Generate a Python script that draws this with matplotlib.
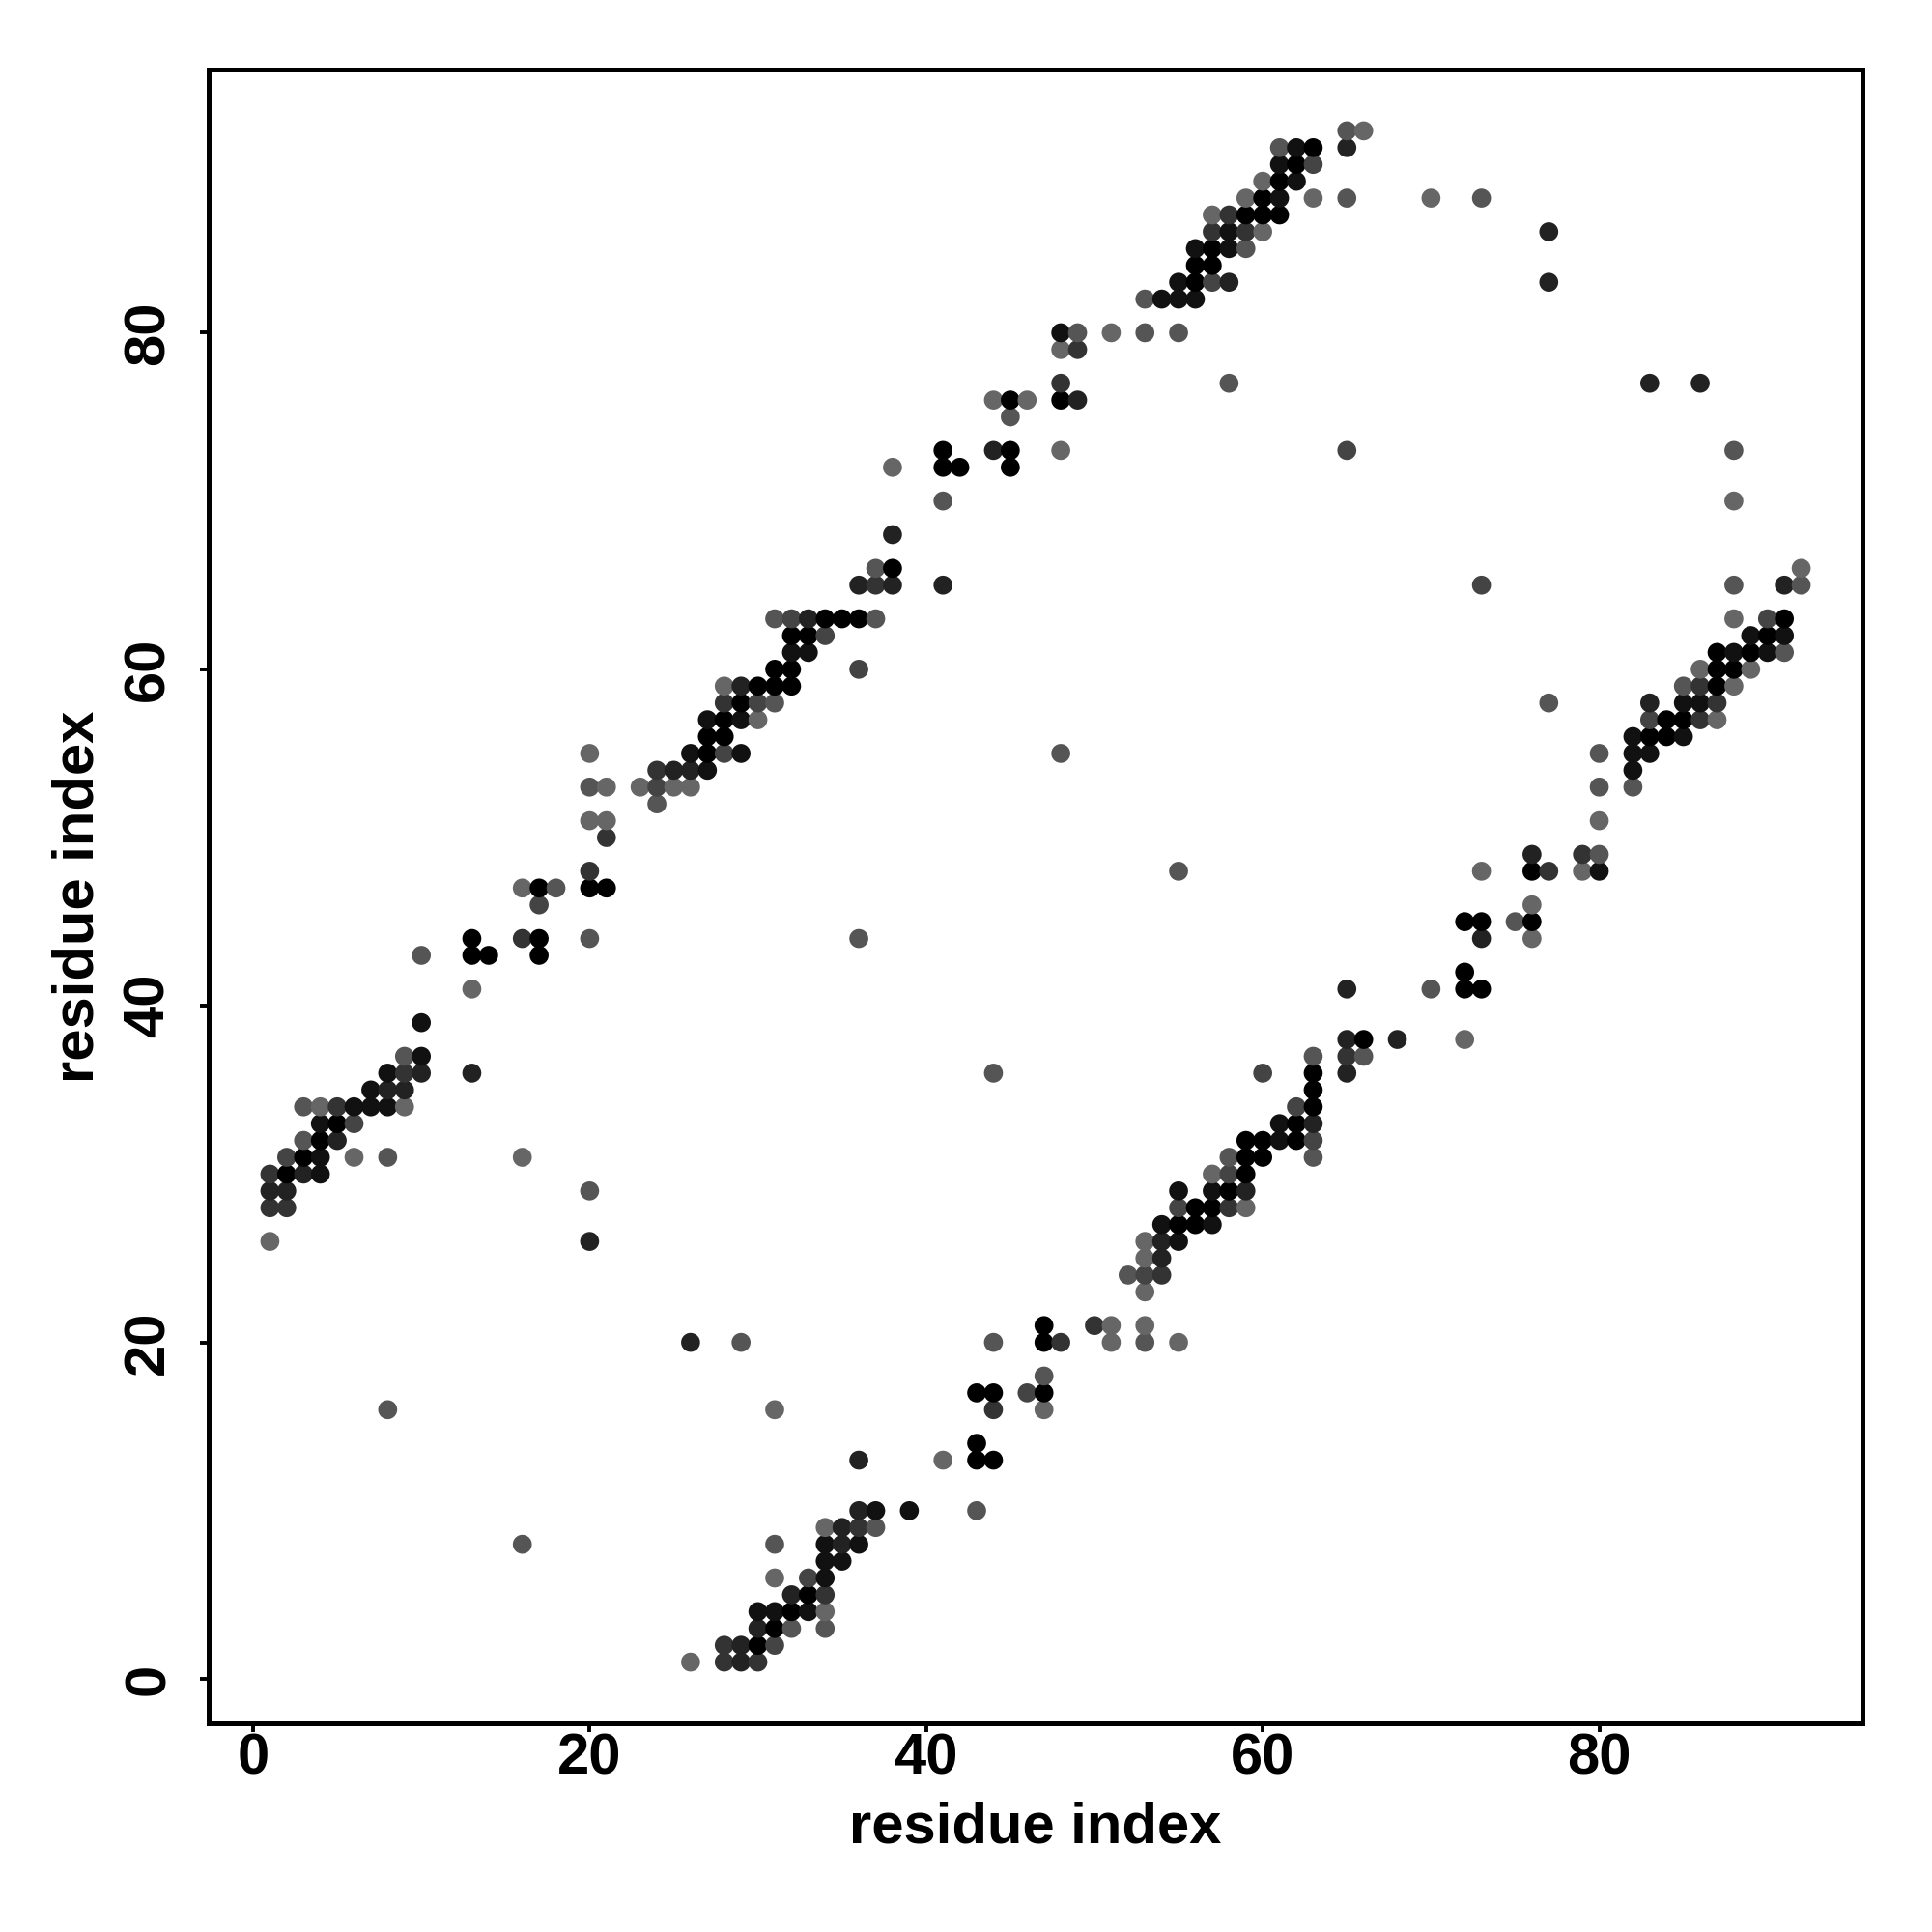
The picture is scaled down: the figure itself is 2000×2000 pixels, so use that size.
import numpy as np
import matplotlib
matplotlib.use("Agg")
from matplotlib import pyplot as plt

plt.rcParams['font.family'] = ['Liberation Sans', 'DejaVu Sans']
plt.rcParams['font.weight'] = 'bold'

# contacts read from the lower triangle (i > j); the map is symmetric,
# so each contact is also drawn at (j, i)
# shade: 0 = black ... 6 = grey #666666
contact_i = [16, 26, 26, 28, 28, 29, 29, 29, 30, 30, 30, 30,
             31, 31, 31, 31, 31, 31, 32, 32, 32, 33, 33, 33,
             34, 34, 34, 34, 34, 34, 34, 35, 35, 35, 36, 36, 36, 36,
             37, 37, 39, 41, 43, 43, 43, 43, 44, 44, 44, 44, 44,
             46, 47, 47, 47, 47, 47, 48, 50, 51, 51, 52,
             53, 53, 53, 53, 53, 53, 54, 54, 54, 54,
             55, 55, 55, 55, 55, 55, 56, 56, 57, 57, 57, 57,
             58, 58, 58, 58, 59, 59, 59, 59, 59, 60, 60, 60,
             61, 61, 62, 62, 62, 63, 63, 63, 63, 63, 63, 63,
             65, 65, 65, 65, 66, 66, 68, 70, 72, 72, 72, 72,
             73, 73, 73, 73, 73, 75, 76, 76, 76, 76, 76, 77, 77,
             79, 79, 80, 80, 80, 80, 80, 82, 82, 82, 82,
             83, 83, 83, 83, 83, 84, 84, 85, 85, 85, 85,
             86, 86, 86, 86, 86, 87, 87, 87, 87, 87,
             88, 88, 88, 88, 88, 88, 88, 89, 89, 89, 90, 90, 90,
             91, 91, 91, 91, 92, 92]
contact_j = [8, 1, 20, 1, 2, 1, 2, 20, 1, 2, 3, 4,
             2, 3, 4, 6, 8, 16, 3, 4, 5, 4, 5, 6,
             3, 4, 5, 6, 7, 8, 9, 7, 8, 9, 8, 9, 10, 13,
             9, 10, 10, 13, 10, 13, 14, 17, 13, 16, 17, 20, 36,
             17, 16, 17, 18, 20, 21, 20, 21, 20, 21, 24,
             20, 21, 23, 24, 25, 26, 24, 25, 26, 27,
             20, 26, 27, 28, 29, 48, 27, 28, 27, 28, 29, 30,
             28, 29, 30, 31, 28, 29, 30, 31, 32, 31, 32, 36,
             32, 33, 32, 33, 34, 31, 32, 33, 34, 35, 36, 37,
             36, 37, 38, 41, 37, 38, 38, 41, 38, 41, 42, 45,
             41, 44, 45, 48, 65, 45, 44, 45, 46, 48, 49, 48, 58,
             48, 49, 48, 49, 51, 53, 55, 53, 54, 55, 56,
             55, 56, 57, 58, 77, 56, 57, 56, 57, 58, 59,
             57, 58, 59, 60, 77, 57, 58, 59, 60, 61,
             59, 60, 61, 63, 65, 70, 73, 60, 61, 62, 61, 62, 63,
             61, 62, 63, 65, 65, 66]
shade = [5, 6, 2, 3, 3, 2, 2, 5, 3, 0, 2, 1,
         4, 0, 1, 6, 5, 6, 5, 0, 2, 1, 0, 4,
         5, 6, 3, 1, 1, 1, 6, 1, 2, 2, 1, 3, 2, 2,
         5, 1, 1, 6, 5, 0, 0, 0, 0, 3, 0, 5, 5,
         4, 6, 0, 5, 0, 0, 3, 3, 6, 6, 5,
         5, 6, 6, 4, 6, 6, 3, 2, 2, 1,
         6, 1, 0, 4, 1, 5, 0, 0, 1, 0, 1, 6,
         3, 0, 4, 5, 6, 2, 0, 0, 0, 0, 0, 4,
         1, 1, 0, 0, 4, 5, 4, 2, 0, 0, 0, 5,
         2, 3, 2, 2, 5, 0, 2, 5, 6, 0, 0, 0,
         0, 2, 0, 6, 4, 5, 6, 0, 6, 0, 2, 3, 5,
         6, 3, 1, 5, 6, 5, 5, 5, 1, 1, 1,
         1, 0, 4, 2, 2, 0, 0, 1, 0, 1, 5,
         3, 1, 3, 6, 2, 6, 3, 0, 0, 0,
         6, 0, 1, 6, 5, 6, 5, 6, 0, 1, 1, 0, 4,
         5, 1, 0, 2, 5, 6]

x_ticks = [0, 20, 40, 60, 80]
y_ticks = [0, 20, 40, 60, 80]

xs = np.array(contact_i + contact_j)
ys = np.array(contact_j + contact_i)
levels = np.array(shade + shade)
colors = [str(l * 0x11 / 255) for l in levels]

fig = plt.figure(figsize=(10, 10), dpi=200)
ax = fig.add_axes([0.108, 0.108, 0.856, 0.856])

ax.scatter(xs, ys, s=50, c=colors, linewidths=0)

ax.set_xlim(-2.64, 95.64)
ax.set_ylim(-2.64, 95.64)
ax.set_xticks(x_ticks)
ax.set_yticks(y_ticks)
for sp in ax.spines.values():
    sp.set_linewidth(1.8)
ax.tick_params(length=3.3, width=1.4, labelsize=21.5)
ax.tick_params(axis='x', pad=0)
ax.tick_params(axis='y', pad=9)
for lab in ax.get_yticklabels():
    lab.set_rotation(90)
    lab.set_va('center')

ax.set_xlabel("residue index", fontsize=21.5, fontweight='bold', labelpad=6)
ax.set_ylabel("residue index", fontsize=21.5, fontweight='bold', labelpad=6.5)

fig.savefig("out.png", dpi=200)
